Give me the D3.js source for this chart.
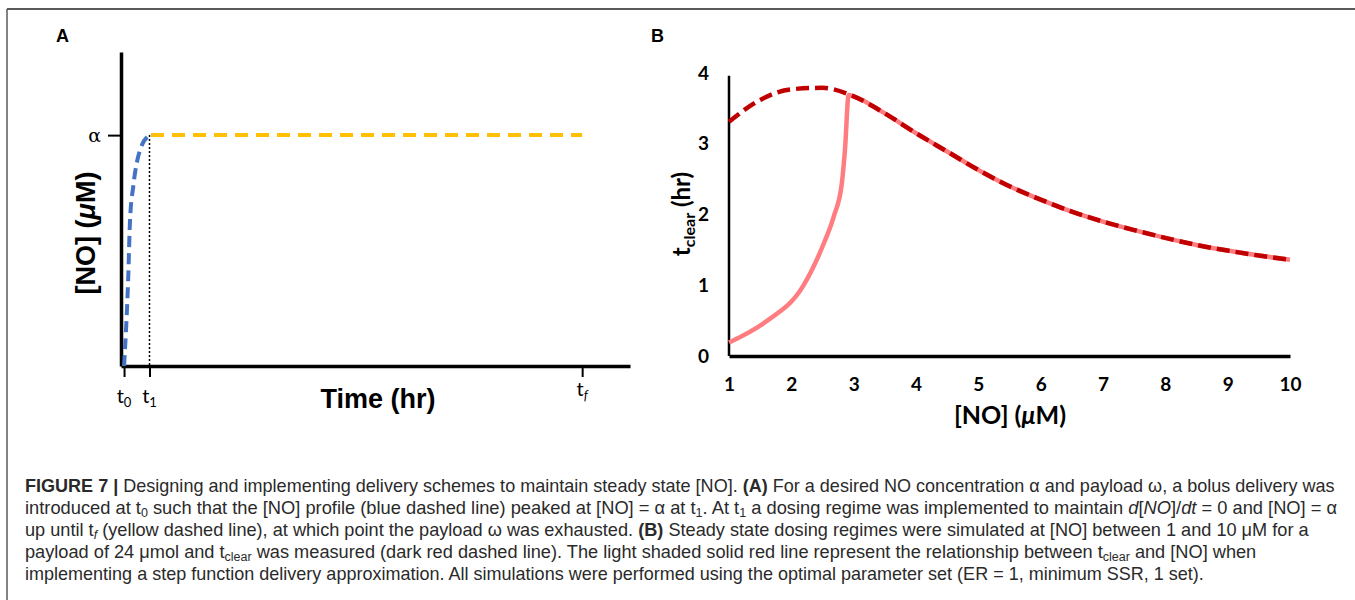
<!DOCTYPE html>
<html>
<head>
<meta charset="utf-8">
<script src="https://cdn.jsdelivr.net/npm/d3@7"></script>
<style>
  body { margin: 0; background: #fff; }
</style>
</head>
<body>
<script>
// panel A: schematic, arbitrary time units, concentration in units of alpha
var bolusTime = [0.6, 1.43, 1.77, 2.42, 3.73, 5.56];
var bolusConc = [0, 0.39, 0.63, 0.78, 0.935, 1.0];
var steadyTime = [5.9, 90.6];
var steadyConc = [1, 1];
var timeTicks = [0.6, 5.6, 90.6];
var timeTickSubs = ['0', '1', 'f'];

// panel B: steady state vs step approximation
var noSS = [1, 1.5, 2, 2.5, 3, 3.5, 4, 4.5, 5, 5.5, 6, 6.5, 7, 7.5, 8, 8.5, 9, 9.5, 10];
var tclearSS = [3.31, 3.62, 3.77, 3.79, 3.67, 3.43, 3.15, 2.89, 2.63, 2.40, 2.21, 2.04, 1.90, 1.78, 1.67, 1.57, 1.49, 1.42, 1.36];
var noStep = [1, 1.6, 2.19, 2.52, 2.68, 2.81, 2.86, 2.92];
var tclearStep = [0.19, 0.49, 0.99, 1.59, 1.97, 2.44, 2.91, 3.69];
var noTicks = [1, 2, 3, 4, 5, 6, 7, 8, 9, 10];
var tclearTicks = [0, 1, 2, 3, 4];

var W = 1355, H = 600;
var svg = d3.select('body').append('svg').attr('width', W).attr('height', H)

// frame
svg.append('line').attr('x1', 7).attr('x2', W).attr('y1', 9).attr('y2', 9).attr('stroke', '#5a5a5a').attr('stroke-width', 2)
svg.append('line').attr('x1', 7).attr('x2', 7).attr('y1', 9).attr('y2', H).attr('stroke', '#5a5a5a').attr('stroke-width', 1.5)

var labelFont = 'Lato, "Liberation Sans", sans-serif';
var boldFont = '"Liberation Sans", Arial, sans-serif';

// ---------- panel A ----------
var gA = svg.append('g')
var xA = d3.scaleLinear().domain([0, 100]).range([121, 630])
var yA = d3.scaleLinear().domain([0, 1.36]).range([366, 52])

gA.append('text').attr('x', 56).attr('y', 42).text('A')
  .attr('font-family', boldFont).attr('font-weight', 'bold').attr('font-size', 18)

var xAxisA = gA.append('g').attr('transform', `translate(0, ${yA(0)})`)
  .call(d3.axisBottom(xA).tickValues(timeTicks).tickSize(11).tickSizeOuter(0).tickFormat(''))
xAxisA.select('.domain').attr('stroke-width', 3.5)
xAxisA.selectAll('.tick line').attr('stroke-width', 2)

var yAxisA = gA.append('g').attr('transform', `translate(${xA(0)}, 0)`)
  .call(d3.axisLeft(yA).tickValues([1]).tickSize(13).tickSizeOuter(0).tickFormat(() => 'α'))
yAxisA.select('.domain').attr('stroke-width', 3.5)
yAxisA.selectAll('.tick line').attr('stroke-width', 2)
yAxisA.selectAll('.tick text').attr('font-family', '"DejaVu Serif", serif').attr('font-size', 19)
  .attr('fill', '#000').attr('dx', -4)

// t0, t1, tf labels (tf sits a bit higher in the original)
timeTicks.forEach(function (t, i) {
  var lab = gA.append('text')
    .attr('x', xA(t)).attr('y', i == 2 ? 396 : 403)
    .attr('text-anchor', 'middle')
    .attr('font-family', labelFont).attr('font-size', 20)
  lab.append('tspan').text('t')
  lab.append('tspan').text(timeTickSubs[i]).attr('font-size', 13).attr('baseline-shift', -4)
    .attr('font-style', i == 2 ? 'italic' : 'normal')
})

gA.append('text').attr('x', 378).attr('y', 408).attr('text-anchor', 'middle')
  .attr('font-family', boldFont).attr('font-weight', 'bold').attr('font-size', 27)
  .text('Time (hr)')

var yTitleA = gA.append('text').attr('transform', 'translate(95, 233) rotate(-90)')
  .attr('text-anchor', 'middle')
  .attr('font-family', boldFont).attr('font-weight', 'bold').attr('font-size', 27)
yTitleA.append('tspan').text('[NO] (')
yTitleA.append('tspan').text('μ').attr('font-style', 'italic')
yTitleA.append('tspan').text('M)')

// dotted drop line at t1
gA.append('line')
  .attr('x1', xA(timeTicks[1])).attr('x2', xA(timeTicks[1]))
  .attr('y1', yA(1)).attr('y2', yA(0))
  .attr('stroke', '#000').attr('stroke-width', 1.5).attr('stroke-dasharray', '2,2')

var lineA = d3.line()
  .x(d => xA(d[0]))
  .y(d => yA(d[1]))
  .curve(d3.curveMonotoneX)

gA.append('path')
  .attr('d', lineA(bolusTime.map((t, i) => [t, bolusConc[i]])))
  .attr('fill', 'none').attr('stroke', '#4472C4').attr('stroke-width', 4)
  .attr('stroke-dasharray', '11,6')

gA.append('path')
  .attr('d', lineA(steadyTime.map((t, i) => [t, steadyConc[i]])))
  .attr('fill', 'none').attr('stroke', '#FFC000').attr('stroke-width', 4)
  .attr('stroke-dasharray', '13,8')

// ---------- panel B ----------
var gB = svg.append('g')
var xB = d3.scaleLinear().domain([1, 10]).range([729, 1290])
var yB = d3.scaleLinear().domain([0, 4]).range([356, 73])

gB.append('text').attr('x', 651).attr('y', 42).text('B')
  .attr('font-family', boldFont).attr('font-weight', 'bold').attr('font-size', 18)

var xAxisB = gB.append('g').attr('transform', `translate(0, ${yB(0)})`)
  .call(d3.axisBottom(xB).tickValues(noTicks).tickSize(0).tickPadding(22).tickFormat(d3.format('d')))
xAxisB.select('.domain').attr('stroke-width', 3.5)

var yAxisB = gB.append('g').attr('transform', `translate(${xB(1)}, 0)`)
  .call(d3.axisLeft(yB).tickValues(tclearTicks).tickSize(0).tickPadding(20).tickFormat(d3.format('d')))
yAxisB.select('.domain').attr('stroke-width', 2.5).attr('d', `M0,${yB(0)}V${yB(3.96)}`)

gB.selectAll('.tick text').attr('font-family', labelFont).attr('font-weight', 'bold')
  .attr('font-size', 19).attr('fill', '#000')

var xTitleB = gB.append('text').attr('x', 1010).attr('y', 424).attr('text-anchor', 'middle')
  .attr('font-family', labelFont).attr('font-weight', 'bold').attr('font-size', 25)
xTitleB.append('tspan').text('[NO] (')
xTitleB.append('tspan').text('μ').attr('font-style', 'italic')
xTitleB.append('tspan').text('M)')

var yTitleB = gB.append('text').attr('transform', 'translate(690, 214) rotate(-90)')
  .attr('text-anchor', 'middle')
  .attr('font-family', labelFont).attr('font-weight', 'bold').attr('font-size', 24)
yTitleB.append('tspan').text('t')
yTitleB.append('tspan').text('clear').attr('font-size', 16).attr('baseline-shift', -5)
yTitleB.append('tspan').text(' (hr)')

var lineB = d3.line()
  .x(d => xB(d[0]))
  .y(d => yB(d[1]))
  .curve(d3.curveMonotoneX)

// step approximation: rising part, then it rides on the steady state curve
var stepTable = noStep.map((n, i) => [n, tclearStep[i]])
  .concat(noSS.map((n, i) => [n, tclearSS[i]]).filter(d => d[0] >= 3))

gB.append('path')
  .attr('d', lineB(stepTable))
  .attr('fill', 'none').attr('stroke', '#FF7C80').attr('stroke-width', 4.5)

gB.append('path')
  .attr('d', lineB(noSS.map((n, i) => [n, tclearSS[i]])))
  .attr('fill', 'none').attr('stroke', '#C00000').attr('stroke-width', 4.5)
  .attr('stroke-dasharray', '13,6')

// ---------- caption ----------
var captionLines = [
  [{t: 'FIGURE 7 |', b: 1}, {t: ' Designing and implementing delivery schemes to maintain steady state [NO]. '}, {t: '(A)', b: 1},
   {t: ' For a desired NO concentration α and payload ω, a bolus delivery was'}],
  [{t: 'introduced at t'}, {t: '0', s: 1}, {t: ' such that the [NO] profile (blue dashed line) peaked at [NO] = α at t'}, {t: '1', s: 1},
   {t: '. At t'}, {t: '1', s: 1}, {t: ' a dosing regime was implemented to maintain '}, {t: 'd', i: 1}, {t: '['}, {t: 'NO', i: 1},
   {t: ']/'}, {t: 'dt', i: 1}, {t: ' = 0 and [NO] = α'}],
  [{t: 'up until t'}, {t: 'f', s: 1, i: 1}, {t: ' (yellow dashed line), at which point the payload ω was exhausted. '}, {t: '(B)', b: 1},
   {t: ' Steady state dosing regimes were simulated at [NO] between 1 and 10 μM for a'}],
  [{t: 'payload of 24 μmol and t'}, {t: 'clear', s: 1}, {t: ' was measured (dark red dashed line). The light shaded solid red line represent the relationship between t'},
   {t: 'clear', s: 1}, {t: ' and [NO] when'}],
  [{t: 'implementing a step function delivery approximation. All simulations were performed using the optimal parameter set (ER = 1, minimum SSR, 1 set).'}]
];
var captionBase = [492, 514, 536, 558, 580];
var captionWidth = [1310, 1313, 1284, 1232, 1180];

captionLines.forEach(function (segs, li) {
  var g = svg.append('g')
  var txt = g.append('text').attr('x', 0).attr('y', 0)
    .attr('font-family', '"Liberation Sans", Arial, sans-serif').attr('font-size', 17.5).attr('fill', '#2a2a2a')
  segs.forEach(function (s) {
    var ts = txt.append('tspan').text(s.t)
    if (s.b) ts.attr('font-weight', 'bold')
    if (s.i) ts.attr('font-style', 'italic')
    if (s.s) ts.attr('font-size', 12).attr('baseline-shift', -3)
  })
  var w = txt.node().getComputedTextLength()
  g.attr('transform', `translate(25, ${captionBase[li]}) scale(${captionWidth[li] / w}, 1)`)
})
</script>
</body>
</html>
